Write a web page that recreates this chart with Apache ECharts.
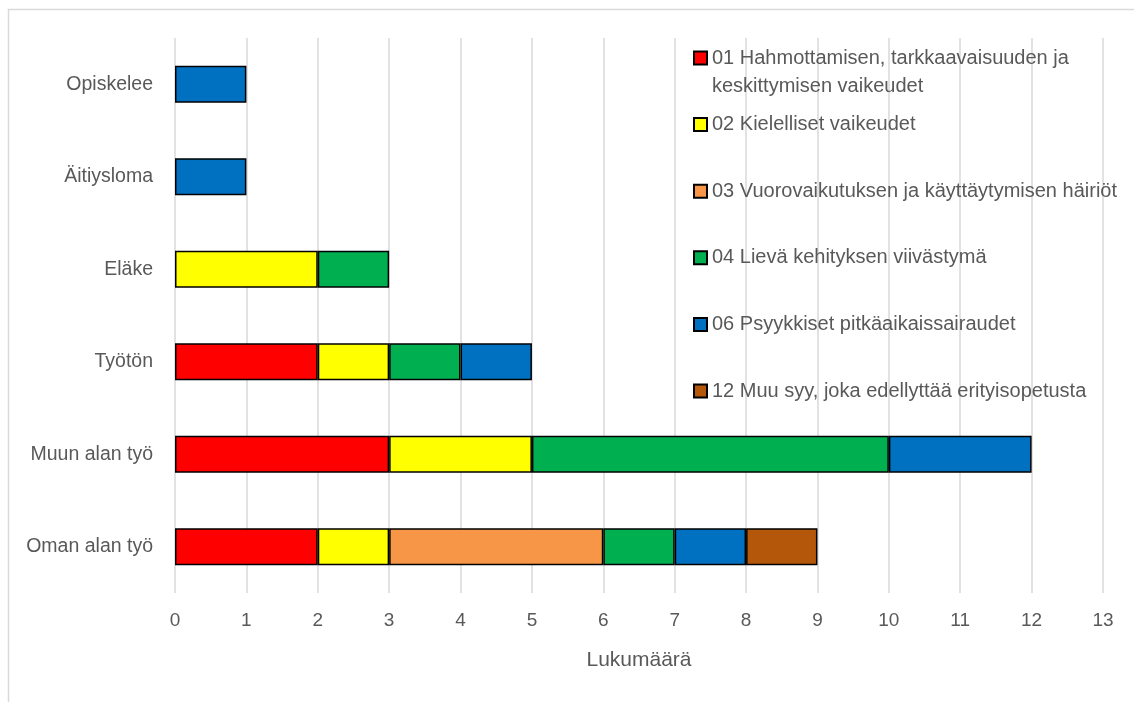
<!DOCTYPE html>
<html>
<head>
<meta charset="utf-8">
<script src="https://cdn.jsdelivr.net/npm/echarts@6.0.0/dist/echarts.min.js"></script>
<style>
  html, body { margin: 0; padding: 0; background: #fff; }
  #chart { width: 1134px; height: 702px; }
</style>
</head>
<body>
<div id="chart"></div>
<script>
// categories bottom -> top
var categories = ['Oman alan työ', 'Muun alan työ', 'Työtön', 'Eläke', 'Äitiysloma', 'Opiskelee'];

var seriesNames = [
  '01 Hahmottamisen, tarkkaavaisuuden ja keskittymisen vaikeudet',
  '02 Kielelliset vaikeudet',
  '03 Vuorovaikutuksen ja käyttäytymisen häiriöt',
  '04 Lievä kehityksen viivästymä',
  '06 Psyykkiset pitkäaikaissairaudet',
  '12 Muu syy, joka edellyttää erityisopetusta'
];

var s01 = [2, 3, 2, 0, 0, 0];
var s02 = [1, 2, 1, 2, 0, 0];
var s03 = [3, 0, 0, 0, 0, 0];
var s04 = [1, 5, 1, 1, 0, 0];
var s06 = [1, 2, 1, 0, 1, 1];
var s12 = [1, 0, 0, 0, 0, 0];

var xTicks = [0, 13];

var colors = ['#FF0000', '#FFFF00', '#F79646', '#00B050', '#0070C0', '#B5570A'];
var FONT = '"Liberation Sans", Arial, sans-serif';
var TXT = '#595959';

var allValues = [s01, s02, s03, s04, s06, s12];

var chart = echarts.init(document.getElementById('chart'));

var series = allValues.map(function (vals, i) {
  return {
    name: seriesNames[i],
    type: 'bar',
    stack: 'total',
    barWidth: '40%',
    itemStyle: { color: colors[i], borderColor: '#000', borderWidth: 1.5 },
    data: vals.map(function (v) { return v === 0 ? '-' : v; })
  };
});

var legends = seriesNames.map(function (n, i) {
  var center = 58 + i * 66.6;
  var multi = i === 0;
  return {
    data: [n],
    orient: 'vertical',
    left: 693,
    top: multi ? center - 42 : center - 14,
    padding: 0,
    itemWidth: 13,
    itemHeight: 13,
    icon: 'rect',
    formatter: multi ? function () {
      return '\n01 Hahmottamisen, tarkkaavaisuuden ja\nkeskittymisen vaikeudet';
    } : '{name}',
    textStyle: { fontFamily: FONT, fontSize: 20, color: TXT, lineHeight: 28 }
  };
});

var option = {
  backgroundColor: '#fff',
  animation: false,
  textStyle: { fontFamily: FONT },
  graphic: [{
    type: 'rect',
    shape: { x: 8.5, y: 9.5, width: 1140, height: 720 },
    style: { fill: 'none', stroke: '#d9d9d9', lineWidth: 1.5 },
    z: -1
  }],
  legend: legends,
  grid: { left: 175, right: 31, top: 38, bottom: 109 },
  xAxis: {
    type: 'value',
    min: xTicks[0],
    max: xTicks[1],
    interval: 1,
    axisLine: { show: false },
    axisTick: { show: false },
    splitLine: { show: true, lineStyle: { color: '#d9d9d9', width: 1.5 } },
    axisLabel: { fontFamily: FONT, fontSize: 19, color: TXT, margin: 18 },
    name: 'Lukumäärä',
    nameLocation: 'middle',
    nameGap: 57,
    nameTextStyle: { fontFamily: FONT, fontSize: 21, color: TXT }
  },
  yAxis: {
    type: 'category',
    data: categories,
    axisLine: { show: false },
    axisTick: { show: false },
    splitLine: { show: false },
    axisLabel: { fontFamily: FONT, fontSize: 19.5, color: TXT, margin: 22 }
  },
  series: series
};

chart.setOption(option);
</script>
</body>
</html>
